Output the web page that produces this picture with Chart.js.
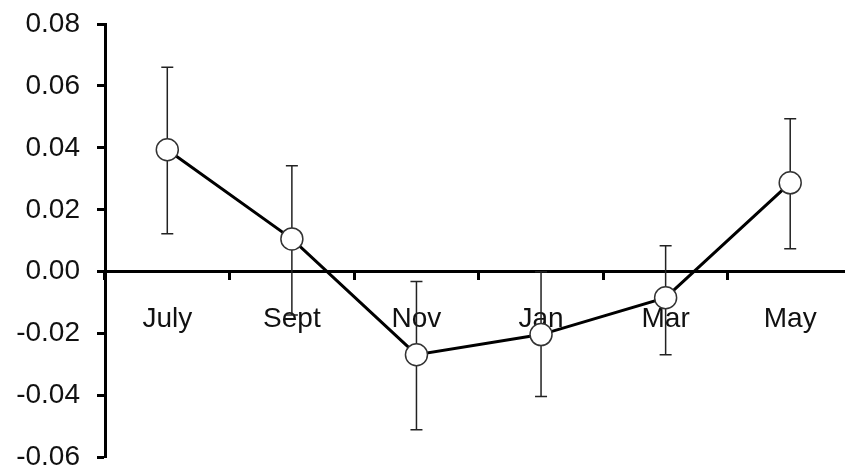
<!DOCTYPE html>
<html>
<head>
<meta charset="utf-8">
<script src="https://cdn.jsdelivr.net/npm/chart.js@4"></script>
<style>
  html, body { margin: 0; padding: 0; background: #fff; overflow: hidden; }
  #wrap { width: 865px; height: 470px; }
</style>
</head>
<body>
<div id="wrap"><canvas id="chart"></canvas></div>
<script>
// values
const months = ['July', 'Sept', 'Nov', 'Jan', 'Mar', 'May'];
const means = [0.0394, 0.0106, -0.0268, -0.0203, -0.0084, 0.0287];
const upper = [0.0660, 0.0342, -0.0032, 0.0000, 0.0084, 0.0494];
const lower = [0.0123, -0.0140, -0.0510, -0.0403, -0.0268, 0.0074];
const yTicks = [-0.06, -0.04, -0.02, 0.00, 0.02, 0.04, 0.06, 0.08];

// error bars drawn behind the markers
const errorBars = {
    id: 'errorBars',
    beforeDatasetsDraw(chart) {
        const ctx = chart.ctx;
        const xs = chart.scales.x;
        const ys = chart.scales.y;
        ctx.save();
        ctx.strokeStyle = '#222';
        ctx.lineWidth = 1.5;
        for (let i = 0; i < months.length; i++) {
            const x = xs.getPixelForValue(i);
            const yt = ys.getPixelForValue(upper[i]);
            const yb = ys.getPixelForValue(lower[i]);
            ctx.beginPath();
            ctx.moveTo(x, yt); ctx.lineTo(x, yb);
            ctx.moveTo(x - 6, yt); ctx.lineTo(x + 6, yt);
            ctx.moveTo(x - 6, yb); ctx.lineTo(x + 6, yb);
            ctx.stroke();
        }
        ctx.restore();
    }
};

const ctx = document.getElementById('chart').getContext('2d');
new Chart(ctx, {
    type: 'line',
    data: {
        labels: months,
        datasets: [{
            data: means,
            borderColor: '#000',
            borderWidth: 3,
            pointRadius: 11,
            pointBorderWidth: 1.5,
            pointBorderColor: '#333',
            pointBackgroundColor: '#fff',
            tension: 0
        }]
    },
    options: {
        responsive: true,
        maintainAspectRatio: false,
        animation: false,
        events: [],
        layout: { padding: { top: 24, bottom: 11, left: 0, right: 0 } },
        plugins: {
            legend: { display: false },
            tooltip: { enabled: false }
        },
        scales: {
            x: {
                type: 'category',
                position: { y: 0 },
                offset: true,
                afterFit(scale) {
                    scale.height = 0;
                    scale.paddingLeft = 0;
                    scale.paddingRight = 0;
                },
                border: { display: true, color: '#000', width: 3 },
                grid: {
                    offset: true,
                    drawOnChartArea: false,
                    drawTicks: true,
                    tickLength: 7,
                    tickWidth: 3,
                    tickColor: '#000'
                },
                ticks: {
                    color: '#111',
                    padding: 24,
                    maxRotation: 0,
                    font: { family: 'Liberation Sans, Arial', size: 28 }
                }
            },
            y: {
                min: -0.06,
                max: 0.08,
                afterFit(scale) {
                    scale.width = 105;
                    scale.paddingTop = 0;
                    scale.paddingBottom = 0;
                },
                afterBuildTicks(scale) {
                    scale.ticks = yTicks.map(v => ({ value: v }));
                },
                border: { display: true, color: '#000', width: 3 },
                grid: {
                    drawOnChartArea: false,
                    drawTicks: true,
                    tickLength: 8,
                    tickWidth: 3,
                    tickColor: '#000'
                },
                ticks: {
                    color: '#111',
                    padding: 17,
                    font: { family: 'Liberation Sans, Arial', size: 28 },
                    callback: v => v.toFixed(2)
                }
            }
        }
    },
    plugins: [errorBars]
});
</script>
</body>
</html>
